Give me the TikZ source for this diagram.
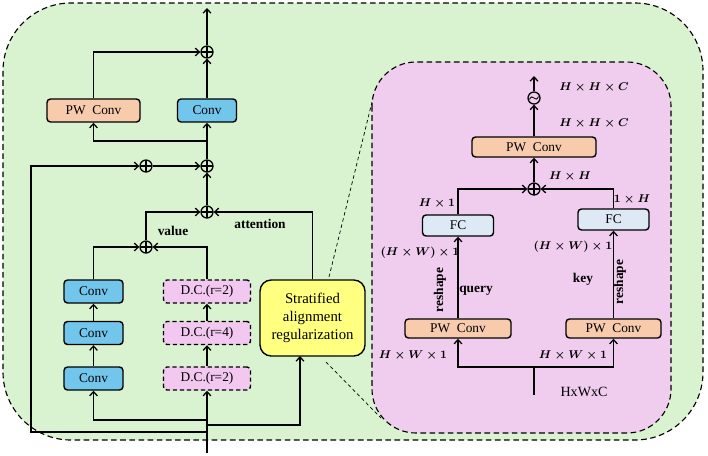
\documentclass[tikz,border=0pt]{standalone}
\usepackage{amsmath, amssymb, bm}
\usepackage{fontspec}
\setmainfont{Liberation Serif}
\usepackage{tikz}
\usetikzlibrary{positioning, arrows.meta}
\definecolor{FrameGreen}{HTML}{D9F2D0}
\definecolor{FramePink}{HTML}{F0CDEE}
\definecolor{BoxSalmon}{HTML}{F8CBAD}
\definecolor{BoxBlue}{HTML}{72C5EB}
\definecolor{BoxPink}{HTML}{F2C8F0}
\definecolor{BoxIce}{HTML}{DDEAF6}
\definecolor{BoxYellow}{HTML}{FFFF80}

\begin{document}
\begin{tikzpicture}[x=0.025cm, y=-0.025cm, >={Straight Barb[length=3pt, width=5.5pt]}, line width=0.9pt,
    font=\fontsize{9.5}{11}\selectfont,
    block/.style={draw, rectangle, rounded corners=2.5pt, line width=1pt, inner sep=1pt, minimum height=0.575cm},
    pwbox/.style={block, fill=BoxSalmon},
    convbox/.style={block, fill=BoxBlue, minimum width=1.475cm},
    dcbox/.style={block, fill=BoxPink, dashed, dash pattern=on 3pt off 2pt, minimum width=2.175cm},
    fcbox/.style={block, fill=BoxIce, minimum width=1.775cm, minimum height=0.525cm},
    sum/.style={draw, circle, minimum size=0.3cm, inner sep=0pt,
      path picture={\draw (path picture bounding box.north) -- (path picture bounding box.south)
        (path picture bounding box.west) -- (path picture bounding box.east);}},
    sig/.style={draw, circle, minimum size=0.3cm, inner sep=0pt,
      path picture={\draw[line width=0.6pt, shift={(path picture bounding box.center)}]
        (-4.5,1.5) .. controls (-1.5,-6) and (1.5,6) .. (4.5,-1.5);}},
    lbl/.style={font=\fontsize{9.5}{11}\selectfont\bfseries},
    dimlbl/.style={font=\fontsize{8.5}{10}\selectfont\boldmath},
    frame/.style={draw, dashed, dash pattern=on 4pt off 2.5pt, line width=0.8pt},
    zoomline/.style={draw, line width=0.5pt, dash pattern=on 2.5pt off 2pt}]
      \useasboundingbox (0,0) rectangle (708,455);

      % Frames
      \draw[frame, fill=FrameGreen, rounded corners=1.7cm] (3,3) rectangle (703,440);
      \draw[frame, fill=FramePink, rounded corners=1.1cm] (372,62) rectangle (671,433);

      % Nodes (left)
      \node [sum] (s1) at (207,52) {};
      \node [pwbox, minimum width=2.325cm] (pw1) at (93.5,110.5) {PW\ \ Conv};
      \node [convbox] (cv0) at (207,110.5) {Conv};
      \node [sum] (s2) at (207,166) {};
      \node [sum] (s3) at (146,166) {};
      \node [sum] (s4) at (207,212) {};
      \node [sum] (s5) at (146,247) {};
      \node [convbox] (cv1) at (93.5,291.5) {Conv};
      \node [convbox] (cv2) at (93.5,333) {Conv};
      \node [convbox] (cv3) at (93.5,378.5) {Conv};
      \node [dcbox] (dc1) at (207,291.5) {D.C.(r=2)};
      \node [dcbox] (dc2) at (207,333) {D.C.(r=4)};
      \node [dcbox] (dc3) at (207,378.5) {D.C.(r=2)};
      \node [block, fill=BoxYellow, rounded corners=8pt, minimum width=2.625cm, minimum height=1.9cm, align=center,
        font=\fontsize{10.5}{12.8}\selectfont] (sar) at (312.5,318) {Stratified\\alignment\\regularization};
      \node [lbl] (lval) at (173,231) {value};
      \node [lbl] (latt) at (260,224) {attention};
      \coordinate (out1) at (207,8);
      \coordinate (in1) at (207,453);
      \coordinate (j0) at (207,141);
      \coordinate (j1) at (207,432);
      \coordinate (lc) at (31,432);
      \coordinate (j2) at (207,420);
      \coordinate (j3) at (207,425);
      \coordinate (sarin) at (300,356);

      % Paths (left)
      \draw[->] (s1) -- (out1);
      \draw[->] (cv0) -- (s1);
      \draw[->] (pw1.north) |- (s1);
      \draw[->] (s2) -- (cv0);
      \draw[->] (j0) -| (pw1.south);
      \draw[->] (s3) -- (s2);
      \draw[->] (s4) -- (s2);
      \draw[->] (j1) -- (lc) |- (s3);
      \draw[->] (s5) |- (s4);
      \draw[->] (sar.north) |- (s4);
      \draw[->] (cv1.north) |- (s5);
      \draw[->] (dc1.north) |- (s5);
      \draw[->] (cv2) -- (cv1);
      \draw[->] (cv3) -- (cv2);
      \draw[->] (dc2) -- (dc1);
      \draw[->] (dc3) -- (dc2);
      \draw[->] (in1) -- (dc3);
      \draw[->] (j2) -| (cv3.south);
      \draw[->] (j3) -| (sarin);

      % Zoom lines
      \draw[zoomline] (329,277) -- (372,102);
      \draw[zoomline] (326,362) -- (381,418);

      % Nodes (right)
      \node [sig] (sg) at (534,98) {};
      \node [pwbox, minimum width=3.1cm, minimum height=0.5cm] (pw2) at (534,147) {PW\ \ Conv};
      \node [sum] (s6) at (534,189) {};
      \node [fcbox] (fc1) at (458,225.5) {FC};
      \node [fcbox] (fc2) at (613.5,219.5) {FC};
      \node [pwbox, minimum width=2.65cm, minimum height=0.475cm] (pw3) at (458,328.5) {PW\ \ Conv};
      \node [pwbox, minimum width=2.375cm, minimum height=0.475cm] (pw4) at (613.5,328.5) {PW\ \ Conv};
      \coordinate (out2) at (534,76);
      \coordinate (in2) at (534,395);
      \coordinate (j4) at (534,367);

      \node [dimlbl] (dhhc1) at (594,88) {$H\times H\times C$};
      \node [dimlbl] (dhhc2) at (594,124) {$H\times H\times C$};
      \node [dimlbl] (dhh) at (570,177) {$H\times H$};
      \node [dimlbl] (dh1) at (437,204) {$H\times 1$};
      \node [dimlbl] (d1h) at (632,200) {$1\times H$};
      \node [dimlbl] (dq) at (420,253) {$(H\times W)\times 1$};
      \node [dimlbl] (dk) at (573,247) {$(H\times W)\times 1$};
      \node [lbl, rotate=90] (rsq) at (440,290) {reshape};
      \node [lbl, rotate=90] (rsk) at (620,282) {reshape};
      \node [lbl] (lq) at (476,291) {query};
      \node [lbl] (lk) at (583,279) {key};
      \node [dimlbl] (dinq) at (413,356) {$H\times W\times 1$};
      \node [dimlbl] (dink) at (573,356) {$H\times W\times 1$};
      \node [font=\fontsize{10}{12}\selectfont] (lin) at (584,392) {HxWxC};

      % Paths (right)
      \draw[->] (sg) -- (out2);
      \draw[->] (pw2) -- (sg);
      \draw[->] (s6) -- (pw2);
      \draw[->] (fc1.north) |- (s6);
      \draw[->] (fc2.north) |- (s6);
      \draw[->] (pw3) -- (fc1);
      \draw[->] (pw4) -- (fc2);
      \draw (in2) -- (j4);
      \draw[->] (j4) -| (pw3.south);
      \draw[->] (j4) -| (pw4.south);
    \end{tikzpicture}
\end{document}
